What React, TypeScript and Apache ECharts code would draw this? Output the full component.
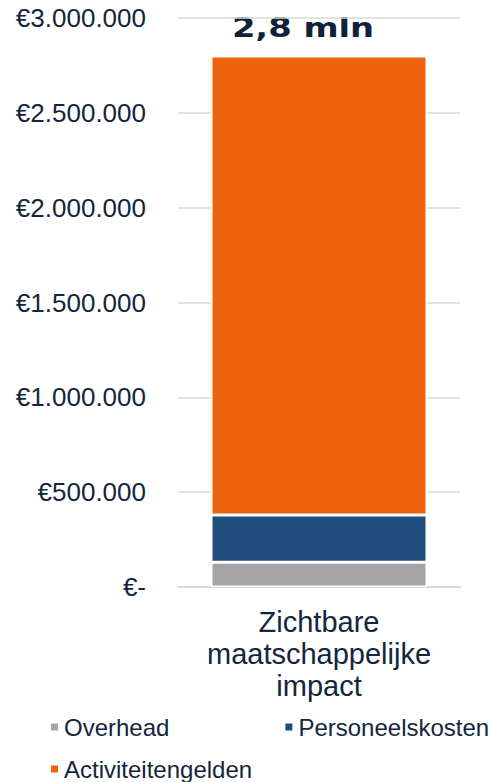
import React, { useEffect, useRef } from "react";
import * as echarts from "echarts";

const categories = ["Zichtbare\nmaatschappelijke\nimpact"];
const seriesNames = ["Overhead", "Personeelskosten", "Activiteitengelden"];
const overhead = [130000];
const personeelskosten = [250000];
const activiteitengelden = [2420000];
const colors = ["#A5A5A5", "#1F4E7D", "#EE620C"];
const yMax = 3000000;
const yInterval = 500000;

const textColor = "#13263B";

function fmtEuro(v: number): string {
  if (v === 0) return "€-";
  return "€" + String(Math.round(v)).replace(/\B(?=(\d{3})+(?!\d))/g, ".");
}

export default function App() {
  const ref = useRef<HTMLDivElement>(null);
  useEffect(() => {
    if (!ref.current) return;
    const chart = echarts.init(ref.current, undefined, { renderer: "svg" });
    const total = overhead[0] + personeelskosten[0] + activiteitengelden[0];
    const totalText = (total / 1000000).toFixed(1).replace(".", ",") + " mln";
    const data = [overhead, personeelskosten, activiteitengelden];
    const legendText = {
      color: textColor,
      fontSize: 24,
      fontFamily: "Liberation Sans",
    };
    chart.setOption({
      animation: false,
      grid: { left: 178, right: 32, top: 18, bottom: 195 },
      graphic: [
        {
          type: "text",
          x: 303,
          y: 28,
          scaleX: 1.25,
          style: {
            text: totalText,
            font: "bold 27px 'DejaVu Sans'",
            fill: "#0E2239",
            align: "center",
            verticalAlign: "middle",
          },
        },
      ],
      legend: [
        {
          data: ["Overhead", "Personeelskosten"],
          left: 49,
          top: 715,
          width: 480,
          padding: 0,
          icon: "rect",
          itemWidth: 9,
          itemHeight: 9,
          itemGap: 114,
          textStyle: legendText,
        },
        {
          data: ["Activiteitengelden"],
          left: 49,
          top: 757,
          width: 480,
          padding: 0,
          icon: "rect",
          itemWidth: 9,
          itemHeight: 9,
          textStyle: legendText,
        },
      ],
      xAxis: {
        type: "category",
        data: categories,
        axisLine: { show: true, lineStyle: { color: "#D9D9D9", width: 2 } },
        axisTick: { show: false },
        axisLabel: {
          color: textColor,
          fontSize: 29,
          lineHeight: 32,
          fontFamily: "Liberation Sans",
          margin: 19,
          align: "center",
        },
      },
      yAxis: {
        type: "value",
        min: 0,
        max: yMax,
        interval: yInterval,
        axisLine: { show: false },
        axisTick: { show: false },
        splitLine: { lineStyle: { color: "#D9D9D9", width: 1.5 } },
        axisLabel: {
          color: textColor,
          fontSize: 26,
          fontFamily: "Liberation Sans",
          margin: 32,
          formatter: (v: number) => fmtEuro(v),
        },
      },
      series: seriesNames.map((name, i) => ({
        name,
        type: "bar",
        stack: "total",
        barWidth: 216,
        data: data[i],
        itemStyle: { color: colors[i], borderColor: "#FFFFFF", borderWidth: 1.5 },
      })),
    });
    return () => chart.dispose();
  }, []);
  return (
    <div
      ref={ref}
      style={{ position: "absolute", left: 0, top: 0, width: 492, height: 782 }}
    />
  );
}
